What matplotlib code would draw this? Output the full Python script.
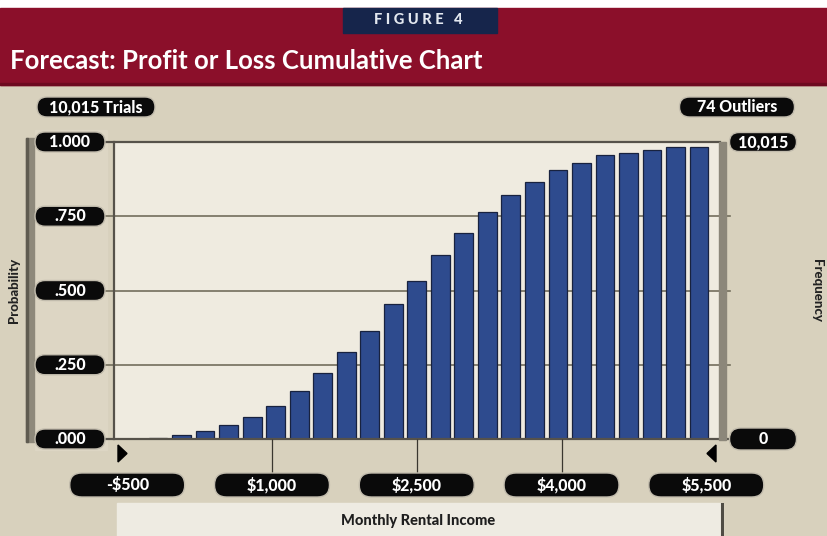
import matplotlib.pyplot as plt
from matplotlib.patches import FancyBboxPatch, Rectangle, Polygon

# cumulative probability of each $250 income bin, left to right
cum_prob = [0.003, 0.013, 0.027, 0.047, 0.075, 0.112, 0.162, 0.222,
            0.293, 0.364, 0.455, 0.532, 0.620, 0.695, 0.765, 0.821,
            0.866, 0.906, 0.930, 0.956, 0.962, 0.973, 0.982, 0.983]
prob_ticks = [0.0, 0.25, 0.5, 0.75, 1.0]
prob_labels = ['.000', '.250', '.500', '.750', '1.000']
income_ticks = [-500, 1000, 2500, 4000, 5500]
income_labels = ['-$500', '$1,000', '$2,500', '$4,000', '$5,500']
freq_labels = ['0', '10,015']
trials_label = '10,015 Trials'
outliers_label = '74 Outliers'

W, H = 828, 536
FONT = ['Lato', 'DejaVu Sans']
BEIGE = '#d8d1bd'
PANEL = '#efebe0'

fig = plt.figure(figsize=(W / 100, H / 100), dpi=100)

# background layer in pixel units
bg = fig.add_axes([0, 0, 1, 1], zorder=0)
bg.set_xlim(0, W)
bg.set_ylim(H, 0)
bg.axis('off')
bg.add_patch(Rectangle((0, 0), W, H, color=BEIGE))
bg.add_patch(Rectangle((0, 0), W, 8, color='white'))
bg.add_patch(Rectangle((0, 8), W, 77, color='#8b0f2a'))
bg.add_patch(Rectangle((0, 83), W, 2, color='#6e0a20'))
bg.add_patch(Rectangle((343, 8), 154, 25, color='#16254b'))
bg.text(418, 20, 'F I G U R E   4', color='#e3e8f0', fontsize=10.5,
        fontweight='black', ha='center', va='center', family=FONT)
bg.text(10, 61, 'Forecast: Profit or Loss Cumulative Chart', color='white',
        fontsize=18.5, fontweight='bold', ha='left', va='center', family=FONT)
bg.add_patch(Rectangle((35, 130), 72, 320, color='#ddd6c4'))
bg.add_patch(Rectangle((26, 138), 8, 304, color='#8e897b'))
bg.add_patch(Rectangle((26, 138), 2, 304, color='#5f5b50'))
bg.add_patch(Rectangle((117, 503), 606, 33, color='#eeebe2'))
bg.plot([722, 722], [504, 536], color='#4f4c44', lw=2.2)
bg.text(14, 290, 'Probability', rotation=90, fontsize=9.5, fontweight='black',
        color='#222222', ha='center', va='center', family=FONT)
bg.text(817, 290, 'Frequency', rotation=270, fontsize=9.5, fontweight='black',
        color='#222222', ha='center', va='center', family=FONT)
bg.text(418, 521, 'Monthly Rental Income', fontsize=10.5, fontweight='black',
        color='#1e1e1e', ha='center', va='center', family=FONT)

# main chart
ax = fig.add_axes([114 / W, (H - 439) / H, 606 / W, 297 / H], zorder=2)
ax.set_facecolor(PANEL)
ax.set_xlim(-1.87, 23.89)
ax.set_ylim(0, 1)
ax.bar(range(len(cum_prob)), cum_prob, width=0.8, color='#2e4b8e',
       edgecolor='#18223f', linewidth=0.9, zorder=3)
for t in prob_ticks[1:-1]:
    ax.plot([-0.015, 1.017], [t, t], transform=ax.get_yaxis_transform(),
            clip_on=False, color='#736e5c', lw=1.2, zorder=1)
for t in (prob_ticks[0], prob_ticks[-1]):
    ax.plot([-0.015, 1.0], [t, t], transform=ax.get_yaxis_transform(),
            clip_on=False, color='#56524a', lw=1.6, zorder=4)
ax.plot([1.0, 1.017], [0, 0], transform=ax.get_yaxis_transform(),
        clip_on=False, color='#56524a', lw=1.6, zorder=4)
for s in ('top', 'bottom', 'right'):
    ax.spines[s].set_visible(False)
ax.spines['left'].set_color('#56524a')
ax.spines['left'].set_linewidth(1.6)
ax.set_xticks([])
ax.set_yticks([])

# dollar scale for the income axis
axd = ax.twiny()
axd.set_xlim(-637, 5642)
axd.axis('off')
axd.vlines(income_ticks[1:-1], -0.125, 0, transform=axd.get_xaxis_transform(),
           clip_on=False, color='#3a372f', lw=0.9)

# overlay in pixel units for labels
ov = fig.add_axes([0, 0, 1, 1], zorder=5)
ov.set_xlim(0, W)
ov.set_ylim(H, 0)
ov.axis('off')
ov.patch.set_alpha(0)
ov.add_patch(Rectangle((719, 142), 7, 298, color='#8c877a', zorder=1))


def pill(xc, yc, w, h, text, fs=11.5):
    ov.add_patch(FancyBboxPatch((xc - w / 2, yc - h / 2), w, h,
                                boxstyle=f'round,pad=0,rounding_size={h / 2}',
                                fc='#0a0a0a', ec='#c2bcad', lw=1.0, zorder=3))
    ov.text(xc, yc, text, color='white', fontsize=fs, fontweight='black',
            ha='center', va='center', family=FONT, zorder=4)


def px_y(v):
    return H - ax.transData.transform((0, v))[1]


for t, lab in zip(prob_ticks, prob_labels):
    pill(70, px_y(t), 70, 20, lab)
for v, lab in zip(income_ticks, income_labels):
    pill(axd.transData.transform((v, 0))[0], 485, 115, 24, lab)
pill(763, px_y(0), 67, 22, freq_labels[0])
pill(763, px_y(1), 67, 19, freq_labels[1])
pill(96, 107, 118, 20, trials_label)
pill(737, 107, 115, 20, outliers_label)

ov.add_patch(Polygon([(118, 445), (118, 462), (127, 453.5)], color='black'))
ov.add_patch(Polygon([(716, 445), (716, 462), (707, 453.5)], color='black'))

fig.savefig('out.png', dpi=100)
